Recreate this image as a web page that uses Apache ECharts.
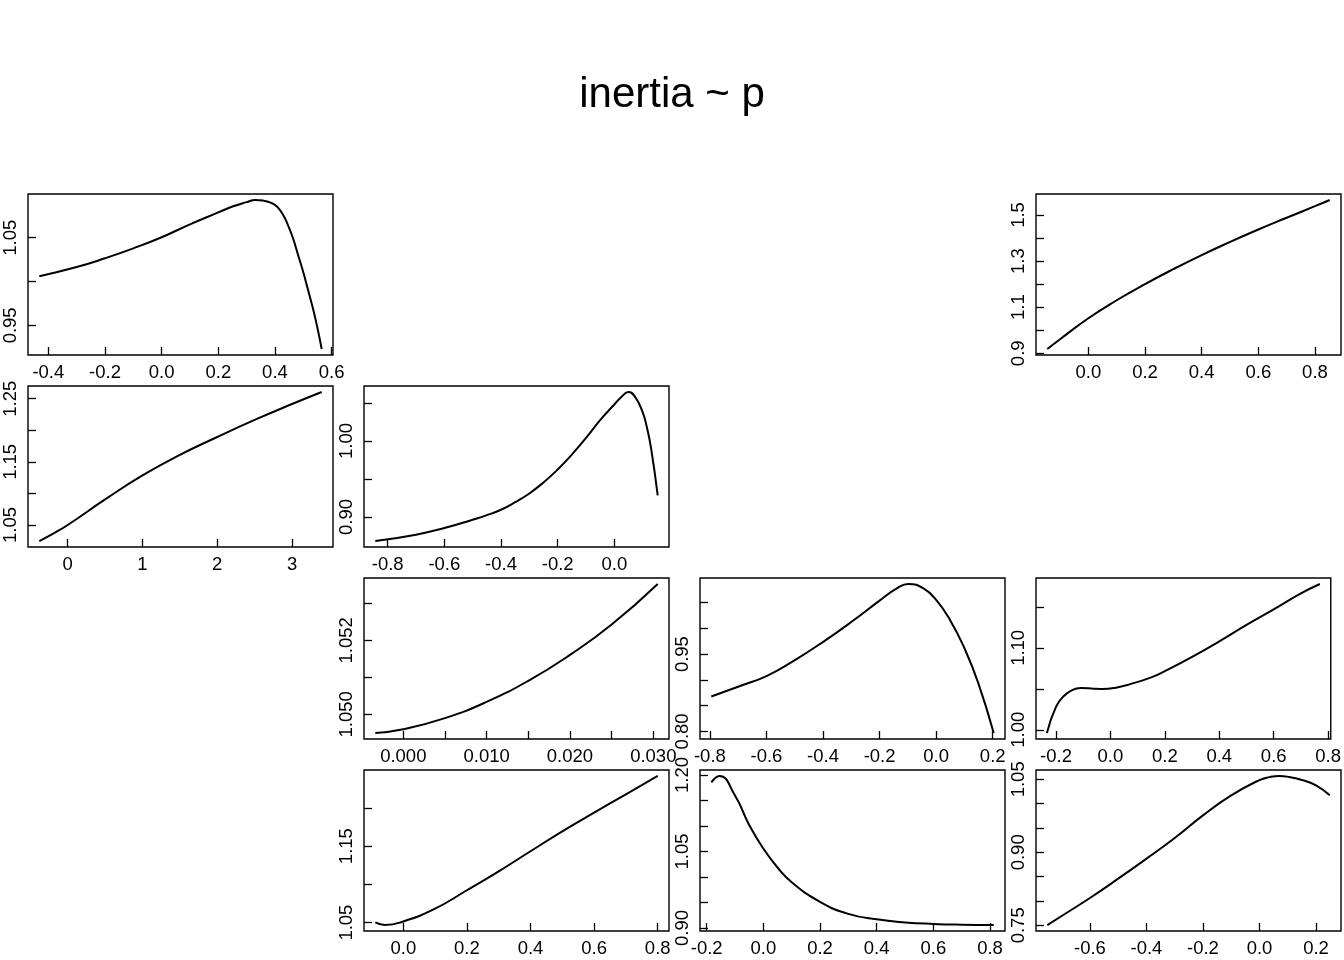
<!DOCTYPE html>
<html><head><meta charset="utf-8">
<script src="https://cdn.jsdelivr.net/npm/echarts@6/dist/echarts.min.js"></script>
<style>html,body{margin:0;padding:0;background:#fff}#c{width:1344px;height:960px}</style>
</head><body><div id="c"></div>
<script>
const chartTitle = 'inertia ~ p';

// Panel A (row 1, col 1)
const aX = [-0.432, -0.3, -0.2, -0.1, 0.0, 0.1, 0.2, 0.25, 0.3, 0.33, 0.36, 0.38, 0.394, 0.41, 0.429, 0.445, 0.464, 0.48, 0.5, 0.515, 0.535, 0.55, 0.565];
const aY = [1.006, 1.0165, 1.0265, 1.0378, 1.0505, 1.0652, 1.0788, 1.0855, 1.0905, 1.093, 1.0922, 1.0905, 1.0885, 1.0845, 1.0758, 1.065, 1.049, 1.032, 1.0105, 0.9925, 0.968, 0.947, 0.923];
const aXTicks = [-0.4, -0.2, 0.0, 0.2, 0.4, 0.6];
const aXLabels = [-0.4, -0.2, 0.0, 0.2, 0.4, 0.6];
const aYTicks = [0.95, 1.00, 1.05];
const aYLabels = [0.95, 1.05];

// Panel B (row 1, col 4)
const bX = [-0.145, -0.1, 0.0, 0.1, 0.2, 0.3, 0.4, 0.5, 0.6, 0.7, 0.8, 0.852];
const bY = [0.9185, 0.961, 1.052, 1.130, 1.200, 1.265, 1.326, 1.383, 1.437, 1.488, 1.538, 1.565];
const bXTicks = [0.0, 0.2, 0.4, 0.6, 0.8];
const bXLabels = [0.0, 0.2, 0.4, 0.6, 0.8];
const bYTicks = [0.9, 1.0, 1.1, 1.2, 1.3, 1.4, 1.5];
const bYLabels = [0.9, 1.1, 1.3, 1.5];

// Panel C (row 2, col 1)
const cX = [-0.38, -0.2, 0, 0.5, 1, 1.5, 2, 2.5, 3, 3.397];
const cY = [1.0246, 1.036, 1.05, 1.0905, 1.1285, 1.161, 1.1894, 1.2164, 1.2416, 1.2607];
const cXTicks = [0, 1, 2, 3];
const cXLabels = [0, 1, 2, 3];
const cYTicks = [1.05, 1.10, 1.15, 1.20, 1.25];
const cYLabels = [1.05, 1.15, 1.25];

// Panel D (row 2, col 2)
const dX = [-0.8438, -0.7, -0.6, -0.5, -0.45, -0.4, -0.35, -0.3, -0.25, -0.2, -0.15, -0.1, -0.05, 0.0, 0.025, 0.05, 0.075, 0.1, 0.115, 0.13, 0.1532];
const dY = [0.8684, 0.8768, 0.8855, 0.8965, 0.9025, 0.9096, 0.9195, 0.931, 0.9455, 0.9625, 0.982, 1.004, 1.0275, 1.048, 1.058, 1.0645, 1.057, 1.038, 1.018, 0.990, 0.9285];
const dXTicks = [-0.8, -0.6, -0.4, -0.2, 0.0];
const dXLabels = [-0.8, -0.6, -0.4, -0.2, 0.0];
const dYTicks = [0.90, 0.95, 1.00, 1.05];
const dYLabels = [0.90, 1.00];

// Panel E (row 3, col 2)
const eX = [-0.00336, 0.0, 0.005, 0.010, 0.015, 0.020, 0.025, 0.030528];
const eY = [1.049493, 1.049595, 1.049895, 1.050335, 1.050905, 1.051605, 1.052425, 1.053523];
const eXTicks = [0.000, 0.005, 0.010, 0.015, 0.020, 0.025, 0.030];
const eXLabels = [0.000, 0.010, 0.020, 0.030];
const eYTicks = [1.050, 1.051, 1.052, 1.053];
const eYLabels = [1.050, 1.052];

// Panel F (row 3, col 3)
const fX = [-0.795, -0.698, -0.598, -0.498, -0.398, -0.298, -0.2, -0.139, -0.098, -0.045, 0.0, 0.049, 0.1, 0.149, 0.2035];
const fY = [0.8678, 0.8872, 0.9079, 0.9389, 0.9744, 1.0132, 1.0539, 1.0778, 1.0862, 1.0778, 1.0552, 1.0164, 0.9615, 0.8937, 0.7968];
const fXTicks = [-0.8, -0.6, -0.4, -0.2, 0.0, 0.2];
const fXLabels = [-0.8, -0.6, -0.4, -0.2, 0.0, 0.2];
const fYTicks = [0.80, 0.85, 0.90, 0.95, 1.00, 1.05];
const fYLabels = [0.80, 0.95];

// Panel G (row 3, col 4)
const gX = [-0.2333, -0.2, -0.17, -0.14, -0.11, -0.07, -0.03, 0.02, 0.07, 0.15, 0.2, 0.3, 0.4, 0.5, 0.6, 0.7, 0.7695];
const gY = [0.996, 1.028, 1.0415, 1.0485, 1.0509, 1.0505, 1.0497, 1.0513, 1.0554, 1.064, 1.0715, 1.0889, 1.1079, 1.1281, 1.1471, 1.1665, 1.178];
const gXTicks = [-0.2, 0.0, 0.2, 0.4, 0.6, 0.8];
const gXLabels = [-0.2, 0.0, 0.2, 0.4, 0.6, 0.8];
const gYTicks = [1.00, 1.05, 1.10, 1.15];
const gYLabels = [1.00, 1.10];

// Panel H (row 4, col 2)
const hX = [-0.0881, -0.058, 0.0, 0.1, 0.2, 0.3, 0.4, 0.5, 0.6, 0.7, 0.8];
const hY = [1.0502, 1.0468, 1.0515, 1.0683, 1.0923, 1.1171, 1.1433, 1.1694, 1.1939, 1.2178, 1.2418];
const hXTicks = [0.0, 0.2, 0.4, 0.6, 0.8];
const hXLabels = [0.0, 0.2, 0.4, 0.6, 0.8];
const hYTicks = [1.05, 1.10, 1.15, 1.20];
const hYLabels = [1.05, 1.15];

// Panel I (row 4, col 3)
const iX = [-0.1837, -0.155, -0.1, -0.05, 0.0, 0.05, 0.1, 0.2, 0.3, 0.4, 0.5, 0.6, 0.7, 0.8131];
const iY = [1.1853, 1.198, 1.1596, 1.1019, 1.0558, 1.0186, 0.9897, 0.9513, 0.9276, 0.917, 0.911, 0.908, 0.9065, 0.9058];
const iXTicks = [-0.2, 0.0, 0.2, 0.4, 0.6, 0.8];
const iXLabels = [-0.2, 0.0, 0.2, 0.4, 0.6, 0.8];
const iYTicks = [0.90, 0.95, 1.00, 1.05, 1.10, 1.15, 1.20];
const iYLabels = [0.90, 1.05, 1.20];

// Panel J (row 4, col 4)
const jX = [-0.7508, -0.7, -0.6, -0.5, -0.4, -0.3, -0.2, -0.1, 0.0, 0.035, 0.07, 0.105, 0.15, 0.2, 0.2484];
const jY = [0.7506, 0.7692, 0.8062, 0.8459, 0.887, 0.9295, 0.976, 1.0171, 1.0485, 1.0545, 1.0569, 1.0547, 1.0487, 1.0377, 1.0171];
const jXTicks = [-0.6, -0.4, -0.2, 0.0, 0.2];
const jXLabels = [-0.6, -0.4, -0.2, 0.0, 0.2];
const jYTicks = [0.75, 0.80, 0.85, 0.90, 0.95, 1.00, 1.05];
const jYLabels = [0.75, 0.90, 1.05];

const panels = [
  {row:0, col:0, x:aX, y:aY, xt:aXTicks, xl:aXLabels, xd:1, yt:aYTicks, yl:aYLabels, yd:2},
  {row:0, col:3, x:bX, y:bY, xt:bXTicks, xl:bXLabels, xd:1, yt:bYTicks, yl:bYLabels, yd:1},
  {row:1, col:0, x:cX, y:cY, xt:cXTicks, xl:cXLabels, xd:0, yt:cYTicks, yl:cYLabels, yd:2},
  {row:1, col:1, x:dX, y:dY, xt:dXTicks, xl:dXLabels, xd:1, yt:dYTicks, yl:dYLabels, yd:2},
  {row:2, col:1, x:eX, y:eY, xt:eXTicks, xl:eXLabels, xd:3, yt:eYTicks, yl:eYLabels, yd:3},
  {row:2, col:2, x:fX, y:fY, xt:fXTicks, xl:fXLabels, xd:1, yt:fYTicks, yl:fYLabels, yd:2},
  {row:2, col:3, x:gX, y:gY, xt:gXTicks, xl:gXLabels, xd:1, yt:gYTicks, yl:gYLabels, yd:2},
  {row:3, col:1, x:hX, y:hY, xt:hXTicks, xl:hXLabels, xd:1, yt:hYTicks, yl:hYLabels, yd:2},
  {row:3, col:2, x:iX, y:iY, xt:iXTicks, xl:iXLabels, xd:1, yt:iYTicks, yl:iYLabels, yd:2},
  {row:3, col:3, x:jX, y:jY, xt:jXTicks, xl:jXLabels, xd:1, yt:jYTicks, yl:jYLabels, yd:2}
];

const FONT = '"Liberation Sans", Arial, Helvetica, sans-serif';
const ext = 0.04;
const padMin = v => v.min - (v.max - v.min) * ext;
const padMax = v => v.max + (v.max - v.min) * ext;

const grids = [], xAxes = [], yAxes = [], series = [];
panels.forEach((p, k) => {
  grids.push({
    left: 28 + 336 * p.col, top: 194 + 192 * p.row, width: 305, height: 161,
    show: true, borderColor: '#000', borderWidth: 1.4, backgroundColor: 'transparent'
  });
  xAxes.push({
    type: 'value', gridIndex: k, min: padMin, max: padMax, scale: true,
    splitLine: {show: false},
    axisLine: {show: false, onZero: false},
    axisTick: {show: true, inside: true, length: 8, customValues: p.xt, lineStyle: {color: '#000', width: 1.3}},
    axisLabel: {show: true, customValues: p.xl, margin: 8, color: '#000', fontSize: 18.5, fontFamily: FONT,
      formatter: (v) => Number(v).toFixed(p.xd)}
  });
  yAxes.push({
    type: 'value', gridIndex: k, min: padMin, max: padMax, scale: true,
    splitLine: {show: false},
    axisLine: {show: false, onZero: false},
    axisTick: {show: true, inside: true, length: 8, customValues: p.yt, lineStyle: {color: '#000', width: 1.3}},
    axisLabel: {show: true, customValues: p.yl, rotate: 90, margin: 8, color: '#000', fontSize: 18.5, fontFamily: FONT,
      formatter: (v) => Number(v).toFixed(p.yd)}
  });
  series.push({
    type: 'line', xAxisIndex: k, yAxisIndex: k,
    data: p.x.map((xv, i) => [xv, p.y[i]]),
    smooth: 0.5, showSymbol: false, symbol: 'none',
    lineStyle: {color: '#000', width: 2}, clip: false, silent: true
  });
});

const chart = echarts.init(document.getElementById('c'), null, {renderer: 'canvas'});
chart.setOption({
  animation: false,
  backgroundColor: '#fff',
  grid: grids, xAxis: xAxes, yAxis: yAxes, series: series,
  graphic: [{
    type: 'text', x: 672, y: 95,
    style: {text: chartTitle, fill: '#000', fontSize: 42, fontFamily: FONT, align: 'center', verticalAlign: 'middle'}
  }]
});
</script>
</body></html>
